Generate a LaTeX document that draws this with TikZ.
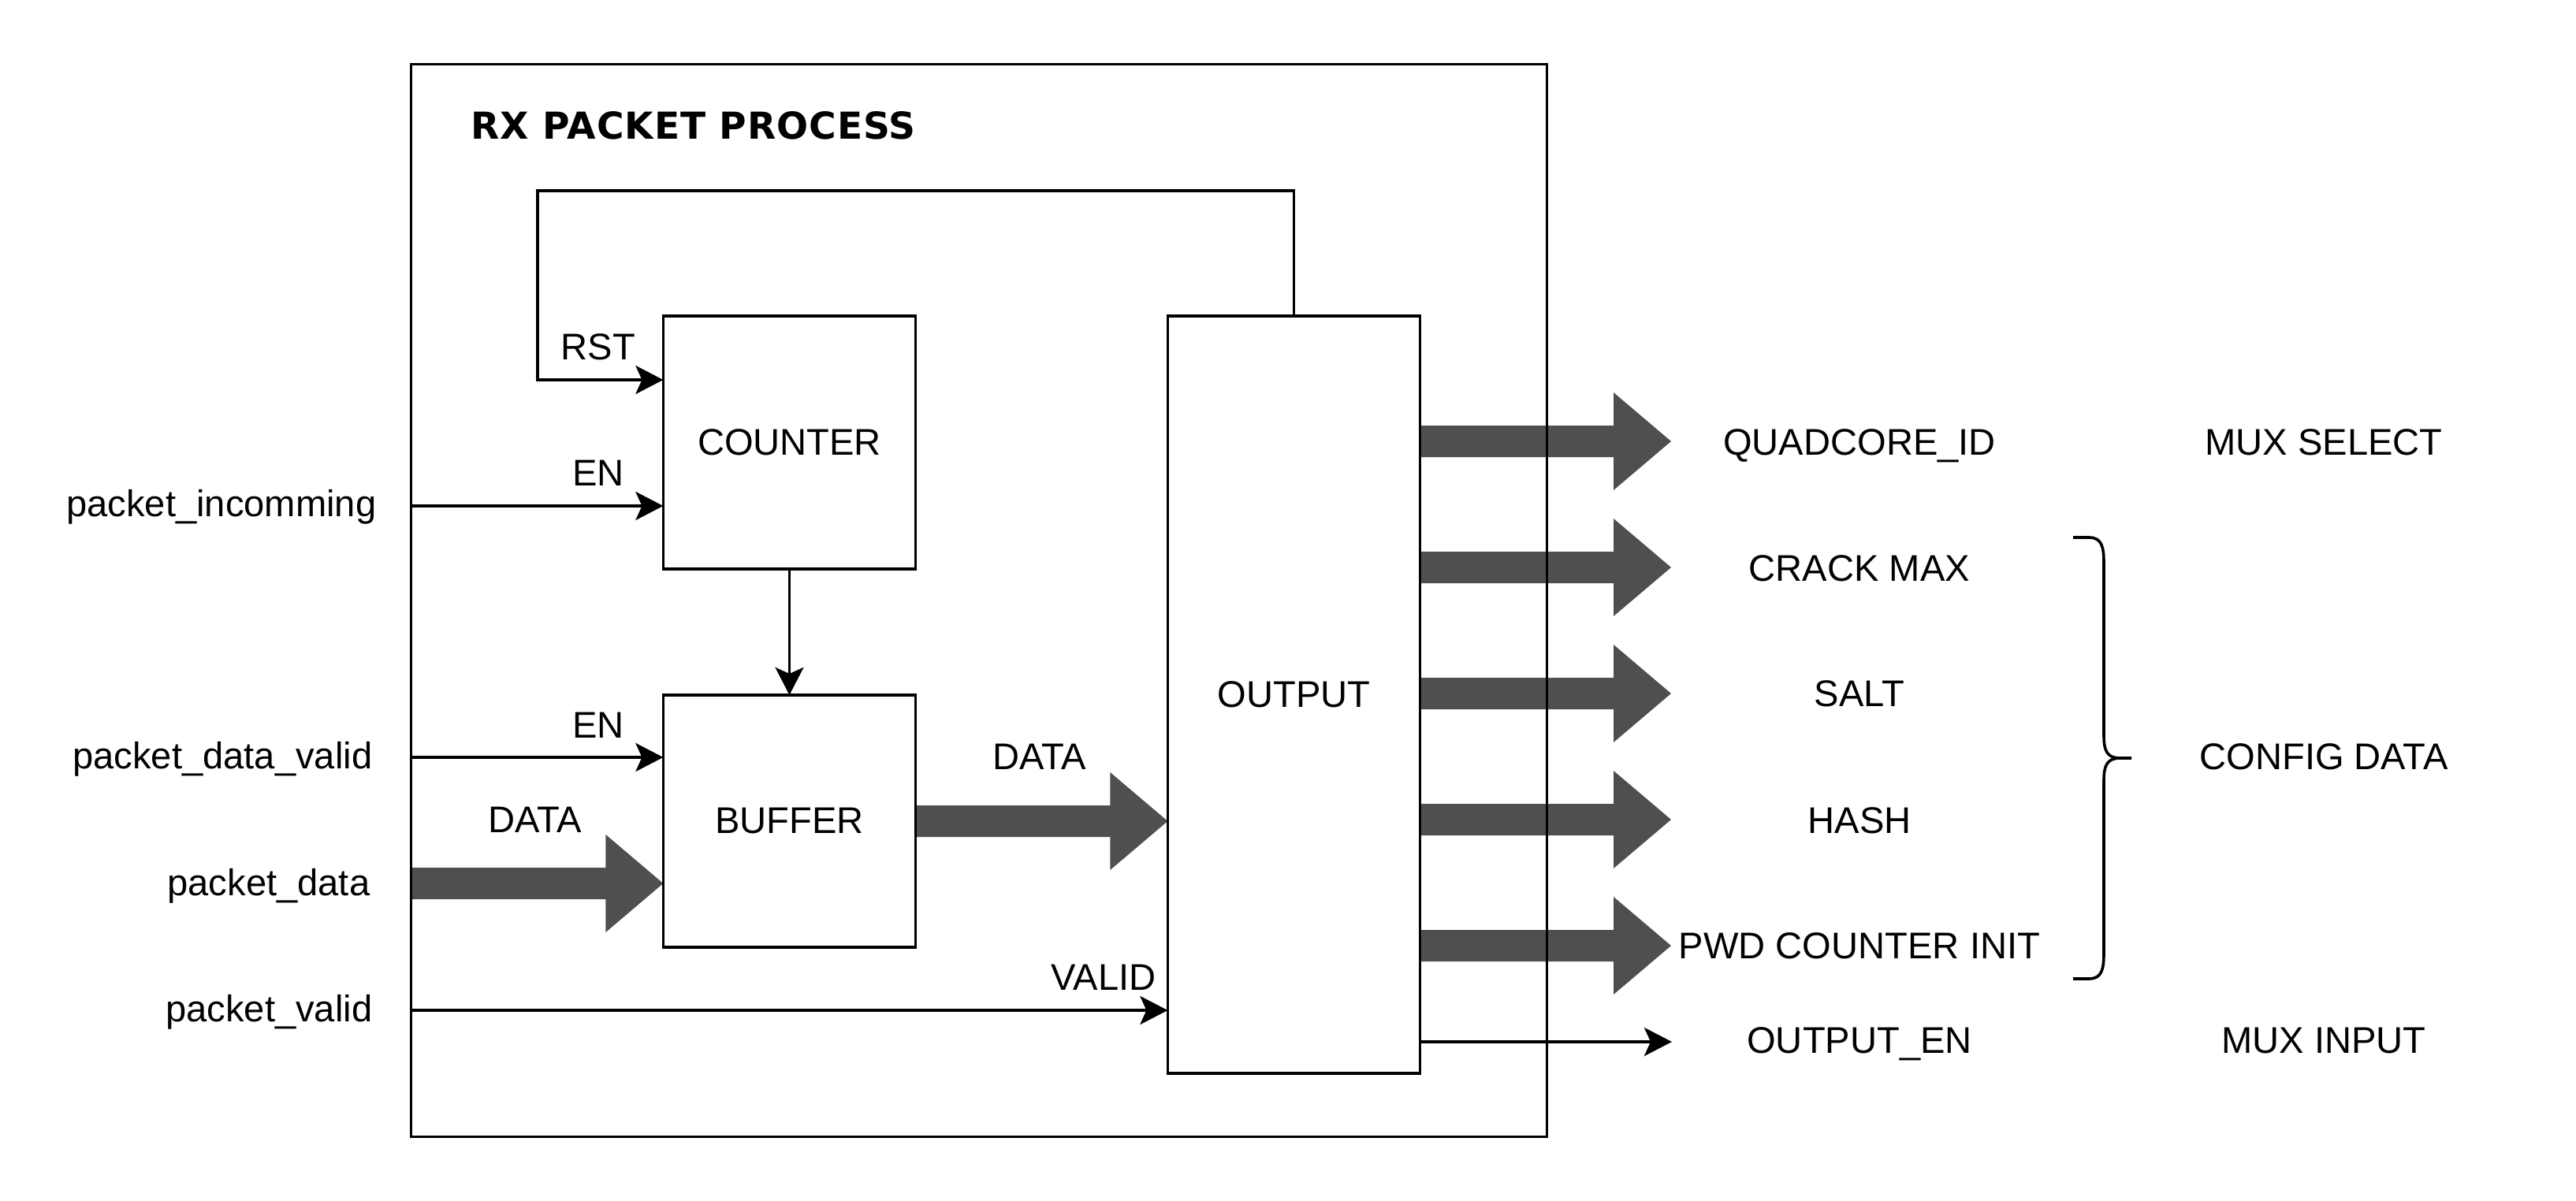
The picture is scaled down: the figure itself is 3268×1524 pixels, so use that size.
\documentclass[tikz,border=0pt]{standalone}
\usepackage{fontspec}
\setmainfont{Liberation Sans}
\newfontfamily\titlefont[LetterSpace=2.0]{DejaVu Sans}
\usetikzlibrary{arrows.meta,calc,backgrounds}
\definecolor{fatgray}{RGB}{79,79,79}
\newcommand{\fatarrow}[2]{\fill[fatgray] ($(#1)+(0,20)$) -- ($(#2)+(-73,20)$) -- ($(#2)+(-73,62)$) -- (#2) -- ($(#2)+(-73,-62)$) -- ($(#2)+(-73,-20)$) -- ($(#1)+(0,-20)$) -- cycle;}
\begin{document}
\begin{tikzpicture}[x=0.01cm,y=-0.01cm,
  font=\fontsize{13.4pt}{16pt}\selectfont,
  box/.style={draw, line width=0.036cm, inner sep=0pt, outer sep=0pt, minimum width=3.2cm},
  sig/.style={line width=0.036cm, -{Stealth[length=0.35cm,width=0.36cm,inset=0.08cm]}},
  lbl/.style={anchor=base, inner sep=0pt},
  inlbl/.style={anchor=base east, inner sep=0pt}]
\useasboundingbox (0,0) rectangle (3268,1524);

% outer block and title
\node[box, minimum width=14.40cm, minimum height=13.60cm] (outer) at (1242,762) {};
\node[anchor=base west, inner sep=0pt, font=\titlefont\bfseries\fontsize{13.4pt}{16pt}\selectfont] (title) at (597,176) {RX PACKET PROCESS};

% blocks
\node[box, minimum height=3.21cm] (counter) at (1001.5,561.5) {COUNTER};
\node[box, minimum height=3.20cm] (buffer) at (1001.5,1042) {BUFFER};
\node[box, minimum height=9.61cm] (output) at (1641.5,881.5) {OUTPUT};

% y levels / free ends
\coordinate (yRst) at (0,482);
\coordinate (yInc) at (0,642);
\coordinate (yDV) at (0,961);
\coordinate (yPD) at (0,1121);
\coordinate (yV) at (0,1282);
\coordinate (fbL) at (682,242);
\coordinate (q1) at (2120,560);
\coordinate (q2) at (2120,720);
\coordinate (q3) at (2120,880);
\coordinate (q4) at (2120,1040);
\coordinate (q5) at (2120,1200);
\coordinate (oen) at (2121,1322);

% fat data arrows (behind the box outlines)
\begin{pgfonlayer}{background}
\fatarrow{outer.west |- yPD}{buffer.west |- yPD}
\fatarrow{buffer.east}{output.west |- buffer.east}
\fatarrow{output.east |- q1}{q1}
\fatarrow{output.east |- q2}{q2}
\fatarrow{output.east |- q3}{q3}
\fatarrow{output.east |- q4}{q4}
\fatarrow{output.east |- q5}{q5}
\end{pgfonlayer}

% thin signals
\draw[sig] (output.north) |- (fbL) |- (counter.west |- yRst);
\draw[sig] (outer.west |- yInc) -- (counter.west |- yInc);
\draw[sig, line width=0.028cm] (counter.south) -- (buffer.north);
\draw[sig] (outer.west |- yDV) -- (buffer.west |- yDV);
\draw[sig] (outer.west |- yV) -- (output.west |- yV);
\draw[sig] (output.east |- oen) -- (oen);

% brace
\draw[line width=0.036cm] (2630,682) -- (2650,682) .. controls (2667,682) and (2669,695) .. (2669,715)
  -- (2669,933) .. controls (2669,953) and (2673,962) .. (2690,962) -- (2704,962);
\draw[line width=0.036cm] (2690,962) .. controls (2673,962) and (2669,971) .. (2669,991)
  -- (2669,1209) .. controls (2669,1229) and (2667,1242) .. (2650,1242) -- (2630,1242);

% labels inside
\node[lbl] (lrst) at (759,456) {RST};
\node[lbl] (len1) at (759,616) {EN};
\node[lbl] (len2) at (759,936) {EN};
\node[lbl] (ldata1) at (679,1056) {DATA};
\node[lbl] (ldata2) at (1319,976) {DATA};
\node[lbl] (lvalid) at (1400,1256) {VALID};

% input labels
\node[inlbl] (pinc) at (478,655) {packet\_incomming};
\node[inlbl] (pdv) at (473,975) {packet\_data\_valid};
\node[inlbl] (pd) at (470,1136) {packet\_data};
\node[inlbl] (pv) at (473,1296) {packet\_valid};

% output labels
\node[lbl] (oq) at (2359,577) {QUADCORE\_ID};
\node[lbl] (oc) at (2359,737) {CRACK MAX};
\node[lbl] (os) at (2359,896) {SALT};
\node[lbl] (oh) at (2359,1057) {HASH};
\node[lbl] (op) at (2359,1216) {PWD COUNTER INIT};
\node[lbl] (oe) at (2359,1336) {OUTPUT\_EN};

\node[lbl] (ms) at (2948,577) {MUX SELECT};
\node[lbl] (cd) at (2948,976) {CONFIG DATA};
\node[lbl] (mi) at (2948,1336) {MUX INPUT};
\end{tikzpicture}
\end{document}
